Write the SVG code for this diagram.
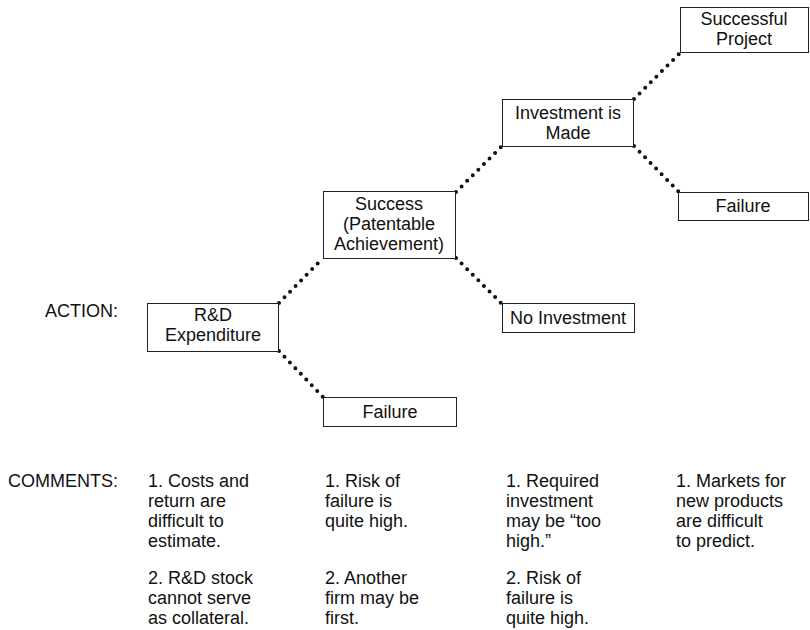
<svg xmlns="http://www.w3.org/2000/svg" width="810" height="630" viewBox="0 0 810 630">
<style>
text{font-family:"Liberation Sans",Arial,sans-serif;font-size:18px;fill:#111}
.c{text-anchor:middle}
rect{fill:#fff;stroke:#222;stroke-width:1}
.dots line{stroke:#111;stroke-width:4;stroke-linecap:round;stroke-dasharray:0 7.9}
</style>
<rect x="0" y="0" width="810" height="630" style="stroke:none"/>
<g id="connectors" class="dots">
<line x1="279" y1="303" x2="323" y2="258"/>
<line x1="279" y1="351" x2="323" y2="397"/>
<line x1="456" y1="192" x2="502" y2="146"/>
<line x1="456" y1="258" x2="502" y2="304"/>
<line x1="634" y1="99" x2="680" y2="53"/>
<line x1="634" y1="146" x2="679" y2="192"/>
</g>
<g id="rd"><rect x="147.5" y="303.5" width="131" height="48"/><text class="c" x="213" y="321">R&amp;D</text><text class="c" x="213" y="341">Expenditure</text></g>
<g id="failure1"><rect x="323.5" y="397.5" width="133" height="29"/><text class="c" x="390" y="418">Failure</text></g>
<g id="success"><rect x="323.5" y="191.5" width="132" height="67"/><text class="c" x="389" y="210">Success</text><text class="c" x="389" y="230">(Patentable</text><text class="c" x="389" y="250">Achievement)</text></g>
<g id="noinv"><rect x="502.5" y="303.5" width="132" height="29"/><text class="c" x="568" y="324">No Investment</text></g>
<g id="invmade"><rect x="502.5" y="99.5" width="131" height="47"/><text class="c" x="568" y="119">Investment is</text><text class="c" x="568" y="139">Made</text></g>
<g id="successproj"><rect x="680.5" y="7.5" width="128" height="45"/><text class="c" x="744" y="25">Successful</text><text class="c" x="744" y="45">Project</text></g>
<g id="failure2"><rect x="678.5" y="192.5" width="130" height="28"/><text class="c" x="743" y="212">Failure</text></g>
<g id="labels">
<text x="45" y="317">ACTION:</text>
<text x="8" y="487">COMMENTS:</text>
</g>
<g id="comments">
<text x="148" y="487">1. Costs and</text>
<text x="148" y="507">return are</text>
<text x="148" y="527">difficult to</text>
<text x="148" y="547">estimate.</text>
<text x="148" y="584">2. R&amp;D stock</text>
<text x="148" y="604">cannot serve</text>
<text x="148" y="624">as collateral.</text>
<text x="325" y="487">1. Risk of</text>
<text x="325" y="507">failure is</text>
<text x="325" y="527">quite high.</text>
<text x="325" y="584">2. Another</text>
<text x="325" y="604">firm may be</text>
<text x="325" y="624">first.</text>
<text x="506" y="487">1. Required</text>
<text x="506" y="507">investment</text>
<text x="506" y="527">may be “too</text>
<text x="506" y="547">high.”</text>
<text x="506" y="584">2. Risk of</text>
<text x="506" y="604">failure is</text>
<text x="506" y="624">quite high.</text>
<text x="676" y="487">1. Markets for</text>
<text x="676" y="507">new products</text>
<text x="676" y="527">are difficult</text>
<text x="676" y="547">to predict.</text>
</g>
</svg>
